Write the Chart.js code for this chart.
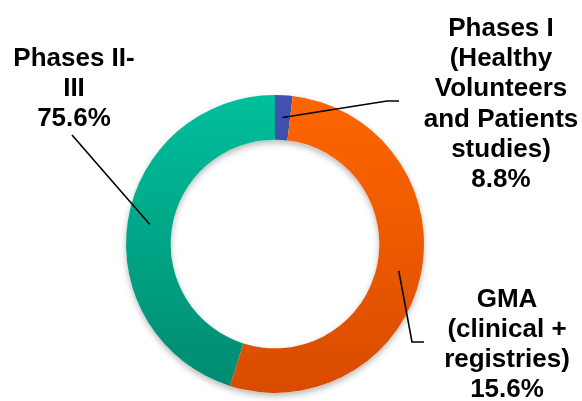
<!DOCTYPE html>
<html>
<head>
<meta charset="utf-8">
<script src="https://cdn.jsdelivr.net/npm/chart.js@4.4.1/dist/chart.umd.min.js"></script>
<style>
  html, body { margin: 0; padding: 0; background: #fff; }
  #wrap { width: 582px; height: 401px; position: relative; }
</style>
</head>
<body>
<div id="wrap"><canvas id="chart" width="582" height="401"></canvas></div>
<script>
// categories, in drawing order (clockwise from 12 o'clock)
const categories = ['Phases I', 'GMA', 'Phases II-III']
// slice sizes as drawn in the picture (share of the ring, %)
const sliceValues = [1.9, 53.0, 45.1]
// label text printed next to each slice
const labelLines = [
  ['Phases I', '(Healthy', 'Volunteers', 'and Patients', 'studies)'],
  ['GMA', '(clinical +', 'registries)'],
  ['Phases II-', 'III']
]
const labelPercents = ['8.8%', '15.6%', '75.6%']

// gradient stops (top -> bottom) per slice
const sliceColors = [
  ['#4252b0', '#2f3a80'],
  ['#ff6600', '#d84c00'],
  ['#00bf9c', '#008a70']
]

// where the callout text sits and where leader lines end
const calloutLayout = [
  { x: 501, y: 36, lineHeight: 30.2, leader: [[387, 101], [399, 101]] },
  { x: 507, y: 307, lineHeight: 30, leader: [[412, 342], [424, 342]] },
  { x: 74, y: 66, lineHeight: 30, leader: [[72, 135]] }
]

const ringShadowPlugin = {
  id: 'ringShadow',
  beforeDatasetsDraw (chart) {
    const arc = chart.getDatasetMeta(0).data[0]
    if (!arc) { return }
    const { x, y, innerRadius, outerRadius } = arc.getProps(['x', 'y', 'innerRadius', 'outerRadius'], true)
    const ctx = chart.ctx
    ctx.save()
    ctx.shadowColor = 'rgba(0, 0, 0, 0.28)'
    ctx.shadowBlur = 6
    ctx.shadowOffsetY = 3
    ctx.fillStyle = '#ffffff'
    ctx.beginPath()
    ctx.arc(x, y, outerRadius, 0, Math.PI * 2)
    ctx.arc(x, y, innerRadius, 0, Math.PI * 2, true)
    ctx.closePath()
    ctx.fill()
    ctx.restore()
  }
}

const calloutPlugin = {
  id: 'callouts',
  afterDatasetsDraw (chart) {
    const ctx = chart.ctx
    const meta = chart.getDatasetMeta(0)
    ctx.save()
    // leader lines from the middle of each slice
    ctx.strokeStyle = '#000000'
    ctx.lineWidth = 1.6
    meta.data.forEach((arc, i) => {
      const start = arc.getCenterPoint(true)
      ctx.beginPath()
      ctx.moveTo(start.x, start.y)
      calloutLayout[i].leader.forEach(([lx, ly]) => ctx.lineTo(lx, ly))
      ctx.stroke()
    })
    // callout text
    ctx.fillStyle = '#000000'
    ctx.font = 'bold 26px "Liberation Sans", Arial, sans-serif'
    ctx.textAlign = 'center'
    ctx.textBaseline = 'alphabetic'
    labelLines.forEach((lines, i) => {
      const pos = calloutLayout[i]
      const all = lines.concat([labelPercents[i]])
      all.forEach((line, k) => {
        ctx.fillText(line, pos.x, pos.y + k * pos.lineHeight)
      })
    })
    ctx.restore()
  }
}

new Chart(document.getElementById('chart'), {
  type: 'doughnut',
  data: {
    labels: categories,
    datasets: [{
      data: sliceValues,
      borderWidth: 0,
      backgroundColor: (c) => {
        const area = c.chart.chartArea
        const stops = sliceColors[c.dataIndex]
        if (!area) { return stops[0] }
        const g = c.chart.ctx.createLinearGradient(0, area.top, 0, area.bottom)
        g.addColorStop(0, stops[0])
        g.addColorStop(1, stops[1])
        return g
      }
    }]
  },
  options: {
    responsive: false,
    animation: false,
    cutout: '70%',
    layout: {
      padding: { left: 126, right: 158, top: 95, bottom: 8 }
    },
    plugins: {
      legend: { display: false },
      tooltip: { enabled: false }
    }
  },
  plugins: [ringShadowPlugin, calloutPlugin]
})
</script>
</body>
</html>
